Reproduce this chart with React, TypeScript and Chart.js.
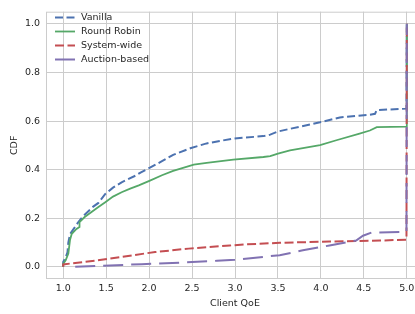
import React, { useEffect, useRef } from "react";
import { Chart, registerables } from "chart.js";

Chart.register(...registerables);

const seriesNames = ["Vanilla", "Round Robin", "System-wide", "Auction-based"];
const seriesColors = ["#4c72b0", "#55a868", "#c44e52", "#8172b2"];

const vanillaQoE = [1.0, 1.0, 1.03, 1.05, 1.06, 1.08, 1.12, 1.17, 1.23, 1.29, 1.35, 1.41, 1.49, 1.58, 1.68, 1.84, 1.9, 2.01, 2.15, 2.28, 2.48, 2.67, 2.98, 3.33, 3.41, 3.5, 3.64, 3.99, 4.22, 4.57, 4.63, 4.65, 4.996, 5.0];
const vanillaCDF = [0.0, 0.02, 0.04, 0.06, 0.1, 0.135, 0.155, 0.181, 0.208, 0.228, 0.248, 0.263, 0.3, 0.326, 0.348, 0.375, 0.388, 0.408, 0.435, 0.461, 0.488, 0.508, 0.528, 0.538, 0.544, 0.557, 0.568, 0.595, 0.615, 0.626, 0.63, 0.645, 0.651, 1.0];

const rrQoE = [1.0, 1.0, 1.03, 1.06, 1.08, 1.1, 1.155, 1.19, 1.19, 1.25, 1.33, 1.41, 1.49, 1.58, 1.68, 1.78, 1.88, 2.01, 2.15, 2.28, 2.52, 2.67, 2.98, 3.33, 3.41, 3.5, 3.64, 3.99, 4.18, 4.45, 4.57, 4.65, 4.996, 5.0];
const rrCDF = [0.0, 0.012, 0.028, 0.055, 0.112, 0.136, 0.156, 0.164, 0.184, 0.205, 0.226, 0.246, 0.266, 0.289, 0.307, 0.322, 0.335, 0.355, 0.377, 0.395, 0.421, 0.428, 0.441, 0.452, 0.456, 0.466, 0.479, 0.501, 0.521, 0.548, 0.561, 0.575, 0.577, 1.0];

const swQoE = [1.0, 1.0, 1.14, 1.37, 1.68, 2.07, 2.46, 2.94, 3.1, 3.52, 4.1, 4.69, 4.996, 5.0];
const swCDF = [0.0, 0.01, 0.016, 0.025, 0.041, 0.061, 0.075, 0.088, 0.092, 0.099, 0.104, 0.108, 0.112, 1.0];

const abQoE = [1.14, 1.915, 2.36, 2.79, 3.0, 3.52, 3.79, 4.1, 4.41, 4.49, 4.59, 4.996, 5.0];
const abCDF = [0.0, 0.011, 0.017, 0.025, 0.029, 0.048, 0.068, 0.088, 0.108, 0.128, 0.141, 0.144, 1.0];

const xTicks = [1.0, 1.5, 2.0, 2.5, 3.0, 3.5, 4.0, 4.5, 5.0];
const yTicks = [0.0, 0.2, 0.4, 0.6, 0.8, 1.0];

const seriesX = [vanillaQoE, rrQoE, swQoE, abQoE];
const seriesY = [vanillaCDF, rrCDF, swCDF, abCDF];
const seriesDash = [[8, 3.5], [], [9, 3.5], [20, 8]];
const seriesWidth = [2, 1.8, 2, 2];

const FONT = "'DejaVu Sans', sans-serif";
const TEXT = "#262626";
const GRID = "#cccccc";

const framePlugin = {
  id: "frame",
  beforeDatasetsDraw(chart: any) {
    const { ctx, chartArea } = chart;
    ctx.save();
    ctx.strokeStyle = GRID;
    ctx.lineWidth = 1;
    ctx.strokeRect(chartArea.left + 0.5, chartArea.top + 0.5, chartArea.right - chartArea.left - 1, chartArea.bottom - chartArea.top - 1);
    ctx.restore();
  },
};

const legendPlugin = {
  id: "customLegend",
  afterDatasetsDraw(chart: any) {
    const { ctx } = chart;
    ctx.save();
    seriesNames.forEach((name, i) => {
      const y = 17.5 + i * 14;
      ctx.beginPath();
      ctx.strokeStyle = seriesColors[i];
      ctx.lineWidth = seriesWidth[i];
      ctx.setLineDash(seriesDash[i]);
      ctx.moveTo(55, y);
      ctx.lineTo(75, y);
      ctx.stroke();
      ctx.setLineDash([]);
      ctx.fillStyle = TEXT;
      ctx.font = `9.5px ${FONT}`;
      ctx.textAlign = "left";
      ctx.textBaseline = "middle";
      ctx.fillText(name, 81, y);
    });
    ctx.restore();
  },
};

export default function App() {
  const ref = useRef<HTMLCanvasElement>(null);
  useEffect(() => {
    if (!ref.current) return;
    const datasets = seriesNames.map((name, i) => ({
      label: name,
      data: seriesX[i].map((x, j) => ({ x, y: seriesY[i][j] })),
      borderColor: seriesColors[i],
      backgroundColor: seriesColors[i],
      borderWidth: seriesWidth[i],
      borderDash: seriesDash[i],
      pointRadius: 0,
      tension: 0,
      fill: false,
      showLine: true,
      order: 3 - i,
    }));
    const chart = new Chart(ref.current, {
      type: "scatter",
      data: { datasets },
      options: {
        animation: false,
        responsive: true,
        maintainAspectRatio: false,
        layout: { padding: { left: 0, top: 5, right: 1, bottom: 0 } },
        plugins: { legend: { display: false }, tooltip: { enabled: false } },
        scales: {
          x: {
            type: "linear",
            min: 0.8,
            max: 5.2,
            afterBuildTicks: (s: any) => {
              s.ticks = xTicks.map((v) => ({ value: v }));
            },
            afterFit: (s: any) => {
              s.height = 35;
            },
            ticks: {
              callback: (v: any) => Number(v).toFixed(1),
              color: TEXT,
              font: { family: FONT, size: 9.5 },
              padding: 4,
              maxRotation: 0,
              autoSkip: false,
            },
            grid: { color: GRID, lineWidth: 1, drawTicks: false },
            border: { display: false },
            title: {
              display: true,
              text: "Client QoE",
              color: TEXT,
              font: { family: FONT, size: 9.5 },
              padding: { top: 0, bottom: 5 },
            },
          },
          y: {
            type: "linear",
            min: -0.05,
            max: 1.05,
            afterBuildTicks: (s: any) => {
              s.ticks = yTicks.map((v) => ({ value: v }));
            },
            afterFit: (s: any) => {
              s.width = 46;
            },
            ticks: {
              callback: (v: any) => Number(v).toFixed(1),
              color: TEXT,
              font: { family: FONT, size: 9.5 },
              padding: 6,
              autoSkip: false,
            },
            grid: { color: GRID, lineWidth: 1, drawTicks: false },
            border: { display: false },
            title: {
              display: true,
              text: "CDF",
              color: TEXT,
              font: { family: FONT, size: 9.5 },
              padding: { top: 9, bottom: 0 },
            },
          },
        },
      },
      plugins: [framePlugin, legendPlugin],
    });
    return () => chart.destroy();
  }, []);
  return (
    <div style={{ position: "fixed", left: 0, top: 0, width: 415, height: 314, overflow: "hidden", background: "#fff" }}>
      <div style={{ position: "relative", width: 425, height: 314 }}>
        <canvas ref={ref} />
      </div>
    </div>
  );
}
